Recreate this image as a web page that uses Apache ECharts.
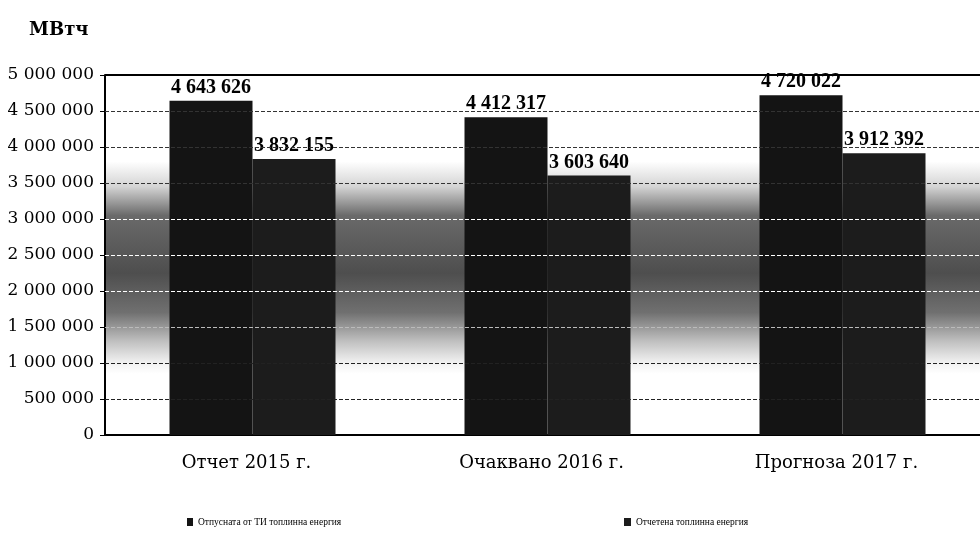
<!DOCTYPE html>
<html>
<head>
<meta charset="utf-8">
<script src="https://cdn.jsdelivr.net/npm/echarts@6/dist/echarts.min.js"></script>
<style>
  html, body { margin: 0; padding: 0; background: #fff; overflow: hidden; }
  /* the plot runs off the right edge of the page, like in the scan */
  #chart { width: 1000px; height: 533px; }
</style>
</head>
<body>
<div id="chart"></div>
<script>
var categories = ['Отчет 2015 г.', 'Очаквано 2016 г.', 'Прогноза 2017 г.'];
var released = [4643626, 4412317, 4720022];
var accounted = [3832155, 3603640, 3912392];
var seriesNames = ['Отпусната от ТИ топлинна енергия', 'Отчетена топлинна енергия'];
var yTicks = [500000, 1000000, 1500000, 2000000, 2500000, 3000000, 3500000, 4000000, 4500000, 5000000];

var serif = '"Liberation Serif", "DejaVu Serif", serif';
var wideSerif = '"DejaVu Serif", "Liberation Serif", serif';

// gridline colours: dark over the white part, light across the grey band
var gridColors = ['#222', '#222', '#bbb', '#fff', '#fff', '#fff', '#333', '#333', '#333', '#000'];

// 4643626 -> "4 643 626"
function fmt(v) {
  return String(v).replace(/\B(?=(\d{3})+(?!\d))/g, ' ');
}

var chart = echarts.init(document.getElementById('chart'));

var gridLines = yTicks.map(function(v, i) {
  var top = i === yTicks.length - 1;
  return {
    yAxis: v,
    lineStyle: {
      color: gridColors[i],
      type: top ? 'solid' : 'dashed',
      width: top ? 2 : 1
    }
  };
});

var option = {
  backgroundColor: '#fff',
  animation: false,
  title: {
    text: 'МВтч',
    left: 24,
    top: 16,
    textStyle: { fontFamily: wideSerif, fontSize: 18, fontWeight: 'bold', color: '#000' }
  },
  legend: [
    {
      data: [seriesNames[0]],
      left: 182,
      top: 512,
      icon: 'rect',
      itemWidth: 6,
      itemHeight: 8,
      textStyle: { fontFamily: serif, fontSize: 9.5, color: '#000' }
    },
    {
      data: [seriesNames[1]],
      left: 619,
      top: 512,
      icon: 'rect',
      itemWidth: 7,
      itemHeight: 8,
      textStyle: { fontFamily: serif, fontSize: 9.5, color: '#000' }
    }
  ],
  grid: {
    left: 105,
    right: 10,
    top: 75,
    bottom: 98,
    show: true,
    borderWidth: 0,
    backgroundColor: new echarts.graphic.LinearGradient(0, 0, 0, 1, [
      { offset: 0, color: '#ffffff' },
      { offset: 0.24, color: '#ffffff' },
      { offset: 0.31, color: '#d4d4d4' },
      { offset: 0.39, color: '#6a6a6a' },
      { offset: 0.55, color: '#4e4e4e' },
      { offset: 0.66, color: '#707070' },
      { offset: 0.74, color: '#c0c0c0' },
      { offset: 0.8, color: '#f2f2f2' },
      { offset: 0.83, color: '#ffffff' },
      { offset: 1, color: '#ffffff' }
    ])
  },
  xAxis: {
    type: 'category',
    data: categories,
    axisLine: { show: true, lineStyle: { color: '#000', width: 2 } },
    axisTick: { show: false },
    axisLabel: {
      fontFamily: wideSerif,
      fontSize: 18,
      color: '#000',
      margin: 19,
      padding: [0, 12, 0, 0]
    }
  },
  yAxis: {
    type: 'value',
    min: 0,
    max: 5000000,
    interval: 500000,
    axisLine: { show: true, lineStyle: { color: '#000', width: 2 } },
    axisTick: { show: true, length: 5, lineStyle: { color: '#000' } },
    axisLabel: {
      fontFamily: wideSerif,
      fontSize: 17,
      color: '#000',
      margin: 11,
      formatter: function(v) { return fmt(v); }
    },
    splitLine: { show: false }
  },
  series: [
    {
      // holds the horizontal gridlines, drawn under the bars
      type: 'line',
      data: [],
      z: 1,
      silent: true,
      markLine: {
        silent: true,
        symbol: 'none',
        label: { show: false },
        data: gridLines
      }
    },
    {
      name: seriesNames[0],
      type: 'bar',
      data: released,
      barWidth: 83,
      barGap: '0%',
      z: 3,
      itemStyle: { color: '#141414' },
      label: {
        show: true,
        position: 'top',
        distance: 3,
        fontFamily: serif,
        fontSize: 20,
        fontWeight: 'bold',
        color: '#000',
        formatter: function(p) { return fmt(p.value); }
      }
    },
    {
      name: seriesNames[1],
      type: 'bar',
      data: accounted,
      barWidth: 83,
      barGap: '0%',
      z: 3,
      itemStyle: { color: '#1c1c1c' },
      label: {
        show: true,
        position: 'top',
        distance: 3,
        fontFamily: serif,
        fontSize: 20,
        fontWeight: 'bold',
        color: '#000',
        formatter: function(p) { return fmt(p.value); }
      }
    }
  ]
};

chart.setOption(option);
</script>
</body>
</html>
